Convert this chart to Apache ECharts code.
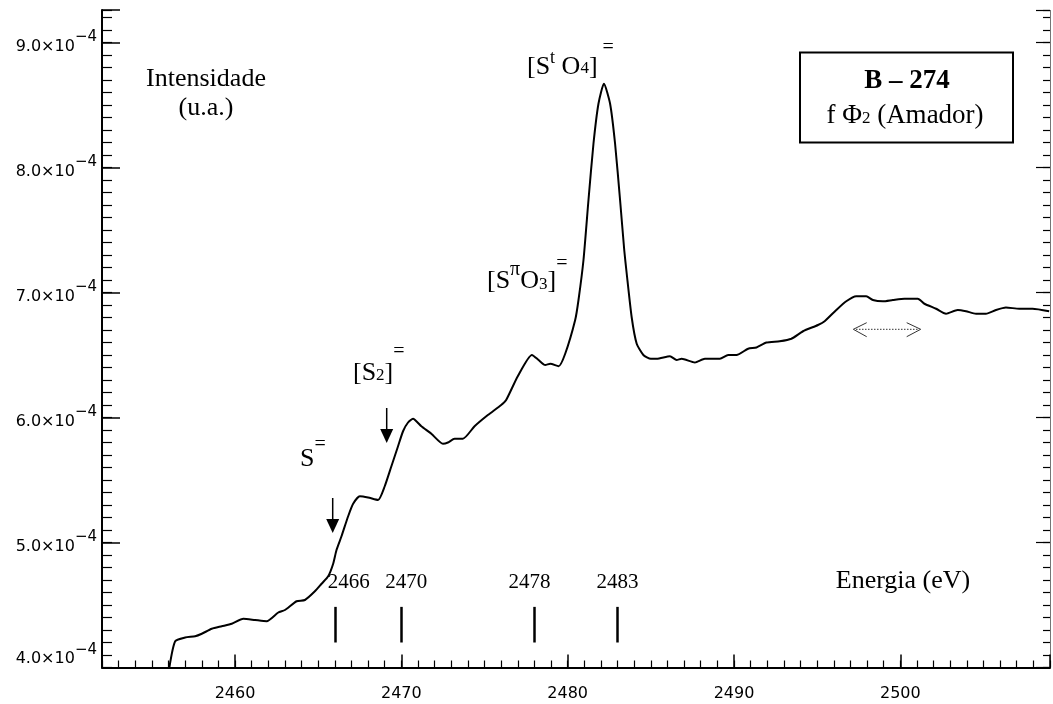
<!DOCTYPE html>
<html>
<head>
<meta charset="utf-8">
<title>B - 274</title>
<script src="https://cdn.jsdelivr.net/npm/echarts@6/dist/echarts.min.js"></script>
<style>
  html, body { margin: 0; padding: 0; background: #fff; }
  #chart { width: 1053px; height: 704px; }
</style>
</head>
<body>
<div id="chart"></div>
<script>
// energia (eV) / intensidade em unidades de 1e-4
const energy = [
  2456.05, 2456.40, 2457.00, 2457.60, 2458.00, 2458.60, 2459.20, 2459.80, 2460.50, 2461.20,
  2461.90, 2462.60, 2463.00, 2463.70, 2464.20, 2464.80, 2465.20, 2465.60, 2465.90, 2466.10,
  2466.40, 2466.80, 2467.10, 2467.50, 2468.00, 2468.60, 2469.00, 2469.40, 2469.80, 2470.10,
  2470.40, 2470.70, 2471.20, 2471.80, 2472.50, 2472.80, 2473.20, 2473.70, 2474.40, 2475.20,
  2476.00, 2476.30, 2477.00, 2477.85, 2478.25, 2478.65, 2478.95, 2479.45, 2479.85, 2480.45,
  2480.65, 2480.95, 2481.25, 2481.55, 2481.85, 2482.18, 2482.55, 2482.85, 2483.15, 2483.40,
  2483.55, 2483.85, 2484.15, 2484.55, 2485.00, 2485.35, 2486.15, 2486.55, 2486.85, 2487.65,
  2488.25, 2489.15, 2489.65, 2490.15, 2490.85, 2491.35, 2491.95, 2492.75, 2493.45, 2494.15,
  2495.05, 2495.45, 2496.15, 2496.75, 2497.35, 2497.95, 2498.35, 2498.95, 2499.55, 2500.25,
  2501.05, 2501.45, 2502.15, 2502.75, 2503.45, 2503.95, 2504.55, 2505.15, 2505.75, 2506.35,
  2507.15, 2507.95, 2508.95
];
const intensity = [
  4.00, 4.21, 4.24, 4.25, 4.27, 4.31, 4.33, 4.35, 4.39, 4.38,
  4.37, 4.44, 4.46, 4.53, 4.54, 4.61, 4.67, 4.73, 4.83, 4.94,
  5.05, 5.21, 5.31, 5.37, 5.36, 5.34, 5.45, 5.61, 5.77, 5.89,
  5.96, 5.99, 5.93, 5.87, 5.79, 5.80, 5.83, 5.83, 5.93, 6.02,
  6.10, 6.14, 6.33, 6.50, 6.46, 6.42, 6.43, 6.41, 6.51, 6.78,
  6.94, 7.26, 7.74, 8.19, 8.51, 8.67, 8.51, 8.19, 7.74, 7.34,
  7.15, 6.80, 6.59, 6.50, 6.47, 6.47, 6.49, 6.46, 6.47, 6.44,
  6.47, 6.47, 6.50, 6.50, 6.55, 6.56, 6.60, 6.61, 6.63, 6.69,
  6.74, 6.77, 6.86, 6.93, 6.97, 6.97, 6.94, 6.93, 6.94, 6.95,
  6.95, 6.91, 6.87, 6.83, 6.86, 6.85, 6.83, 6.83, 6.86, 6.88,
  6.87, 6.87, 6.85
];
const refEnergies = [2466, 2470, 2478, 2483];
const xTickValues = [2460, 2470, 2480, 2490, 2500];
const yTickValues = [4, 5, 6, 7, 8, 9];

const SERIF = '"Liberation Serif", "Times New Roman", serif';
const SANS = '"DejaVu Sans", sans-serif';
const refLabelShift = [14, 5, -5, 0];

const chart = echarts.init(document.getElementById('chart'));

const isTick = (list, v) => list.some(t => Math.abs(t - v) < 1e-6);

// texto com indices / expoentes: [texto, tamanho, deslocamento vertical, peso]
const richText = (x, y, parts, align) => {
  const rich = {};
  let text = '';
  parts.forEach((p, i) => {
    const dy = p[2] || 0;
    rich['p' + i] = {
      fontFamily: SERIF, fontSize: p[1], fontWeight: p[3] || 'normal',
      fill: '#000', color: '#000',
      padding: dy >= 0 ? [2 * dy, 0, 0, 0] : [0, 0, -2 * dy, 0]
    };
    text += '{p' + i + '|' + p[0] + '}';
  });
  return {
    type: 'text', x: x, y: y, silent: true,
    style: {
      text: text, rich: rich, fill: '#000',
      align: align || 'left', verticalAlign: 'middle',
      textAlign: align || 'left', textVerticalAlign: 'middle'
    }
  };
};

const downArrow = (x, y0, y1) => [
  { type: 'line', silent: true, shape: { x1: x, y1: y0, x2: x, y2: y1 - 12 }, style: { stroke: '#000', lineWidth: 1.5 } },
  { type: 'polygon', silent: true, shape: { points: [[x - 6.5, y1 - 14], [x + 6.5, y1 - 14], [x, y1]] }, style: { fill: '#000' } }
];

const minorAxis = (pos, len) => ({
  type: 'value', min: 4, max: 9.26, interval: 0.1, position: pos,
  axisLine: { show: false }, splitLine: { show: false }, axisLabel: { show: false },
  axisTick: { inside: true, length: len, lineStyle: { color: '#000', width: 1.2 } }
});

chart.setOption({
  animation: false,
  backgroundColor: '#fff',
  grid: { left: 102, right: 2, top: 10, bottom: 36.5 },
  xAxis: [
    {
      type: 'value', min: 2452, max: 2509, splitNumber: 6, position: 'bottom',
      axisLine: { onZero: false, lineStyle: { color: '#000', width: 2 } },
      axisTick: { inside: true, length: 13, lineStyle: { color: '#000', width: 1.5 } },
      axisLabel: {
        margin: 18, fontFamily: SANS, fontSize: 16, color: '#000',
        formatter: v => isTick(xTickValues, v) ? String(v) : ''
      },
      splitLine: { show: false }
    },
    {
      type: 'value', min: 2452, max: 2509, interval: 1, position: 'bottom',
      axisLine: { show: false, onZero: false },
      axisTick: { inside: true, length: 7, lineStyle: { color: '#000', width: 1.2 } },
      axisLabel: { show: false },
      splitLine: { show: false }
    }
  ],
  yAxis: [
    {
      type: 'value', min: 4, max: 9.26, interval: 1, position: 'left',
      axisLine: { show: true, onZero: false, lineStyle: { color: '#000', width: 2 } },
      axisTick: { inside: true, length: 18, lineStyle: { color: '#000', width: 1.5 } },
      splitLine: { show: false },
      axisLabel: {
        margin: 5,
        formatter: v => {
          if (!isTick(yTickValues, v)) return '';
          const k = v === 4 ? 'l' : '';
          return '{' + k + 'b|' + v.toFixed(1) + '×10}{' + k + 's|−4}';
        },
        rich: {
          b: { fontFamily: SANS, fontSize: 16, color: '#000', padding: [8, 0, 0, 0] },
          s: { fontFamily: SANS, fontSize: 15, color: '#000', padding: [0, 0, 10, 0] },
          lb: { fontFamily: SANS, fontSize: 16, color: '#000', padding: [0, 0, 18, 0] },
          ls: { fontFamily: SANS, fontSize: 15, color: '#000', padding: [0, 0, 34, 0] }
        }
      }
    },
    minorAxis('left', 10),
    {
      type: 'value', min: 4, max: 9.26, interval: 1, position: 'right',
      axisLine: { show: true, onZero: false, lineStyle: { color: '#666', width: 1, type: 'dotted' } },
      axisTick: { inside: true, length: 14, lineStyle: { color: '#000', width: 1.2 } },
      axisLabel: { show: false },
      splitLine: { show: false }
    },
    minorAxis('right', 7)
  ],
  series: [
    {
      type: 'line',
      xAxisIndex: 0,
      yAxisIndex: 0,
      data: energy.map((e, i) => [e, intensity[i]]),
      showSymbol: false,
      symbol: 'none',
      smooth: 0.2,
      silent: true,
      lineStyle: { color: '#000', width: 2 },
      markLine: {
        silent: true,
        symbol: 'none',
        animation: false,
        lineStyle: { color: '#000', width: 2.5, type: 'solid' },
        label: { show: true, position: 'end', distance: 14, fontFamily: SERIF, fontSize: 21, color: '#000' },
        emphasis: { disabled: true },
        data: refEnergies.map((e, i) => {
          const s = refLabelShift[i];
          return [
            { coord: [e, 4.2], label: { formatter: String(e), padding: s >= 0 ? [0, 0, 0, 2 * s] : [0, -2 * s, 0, 0] } },
            { coord: [e, 4.485] }
          ];
        })
      }
    }
  ],
  graphic: [
    { type: 'text', x: 206, y: 79, silent: true, style: { text: 'Intensidade', font: '26px ' + SERIF, fill: '#000', align: 'center', verticalAlign: 'middle', textAlign: 'center', textVerticalAlign: 'middle' } },
    { type: 'text', x: 206, y: 108, silent: true, style: { text: '(u.a.)', font: '26px ' + SERIF, fill: '#000', align: 'center', verticalAlign: 'middle', textAlign: 'center', textVerticalAlign: 'middle' } },
    { type: 'text', x: 903, y: 581, silent: true, style: { text: 'Energia (eV)', font: '26px ' + SERIF, fill: '#000', align: 'center', verticalAlign: 'middle', textAlign: 'center', textVerticalAlign: 'middle' } },
    { type: 'rect', silent: true, shape: { x: 800, y: 52.5, width: 213, height: 90 }, style: { fill: 'none', stroke: '#000', lineWidth: 2 } },
    richText(907, 81, [['B – 274', 27, 0, 'bold']], 'center'),
    richText(905, 116, [['f Φ', 27, 0], ['2', 17, 3], [' (Amador)', 27, 0]], 'center'),
    richText(527, 67, [['[S', 26, 0], ['t', 18, -9], [' O', 26, 0], ['4', 17, 2], [']', 26, 0], [' =', 20, -19]]),
    richText(487, 281, [['[S', 26, 0], ['π', 20, -11], ['O', 26, 0], ['3', 17, 4], [']', 26, 0], ['=', 20, -17]]),
    richText(353, 373, [['[S', 26, 0], ['2', 17, 3], [']', 26, 0], ['=', 20, -21]]),
    richText(300, 459, [['S', 26, 0], ['=', 20, -14]]),
    ...downArrow(386.7, 408, 443),
    ...downArrow(332.7, 498, 533),
    { type: 'line', silent: true, shape: { x1: 856, y1: 329.3, x2: 918, y2: 329.3 }, style: { stroke: '#333', lineWidth: 1, lineDash: [1.5, 1.5] } },
    { type: 'polyline', silent: true, shape: { points: [[866.7, 322.7], [853.3, 329.3], [866.7, 336.7]] }, style: { fill: 'none', stroke: '#333', lineWidth: 1 } },
    { type: 'polyline', silent: true, shape: { points: [[906.7, 322.7], [920.7, 329.3], [906.7, 336.7]] }, style: { fill: 'none', stroke: '#333', lineWidth: 1 } }
  ]
});
</script>
</body>
</html>
